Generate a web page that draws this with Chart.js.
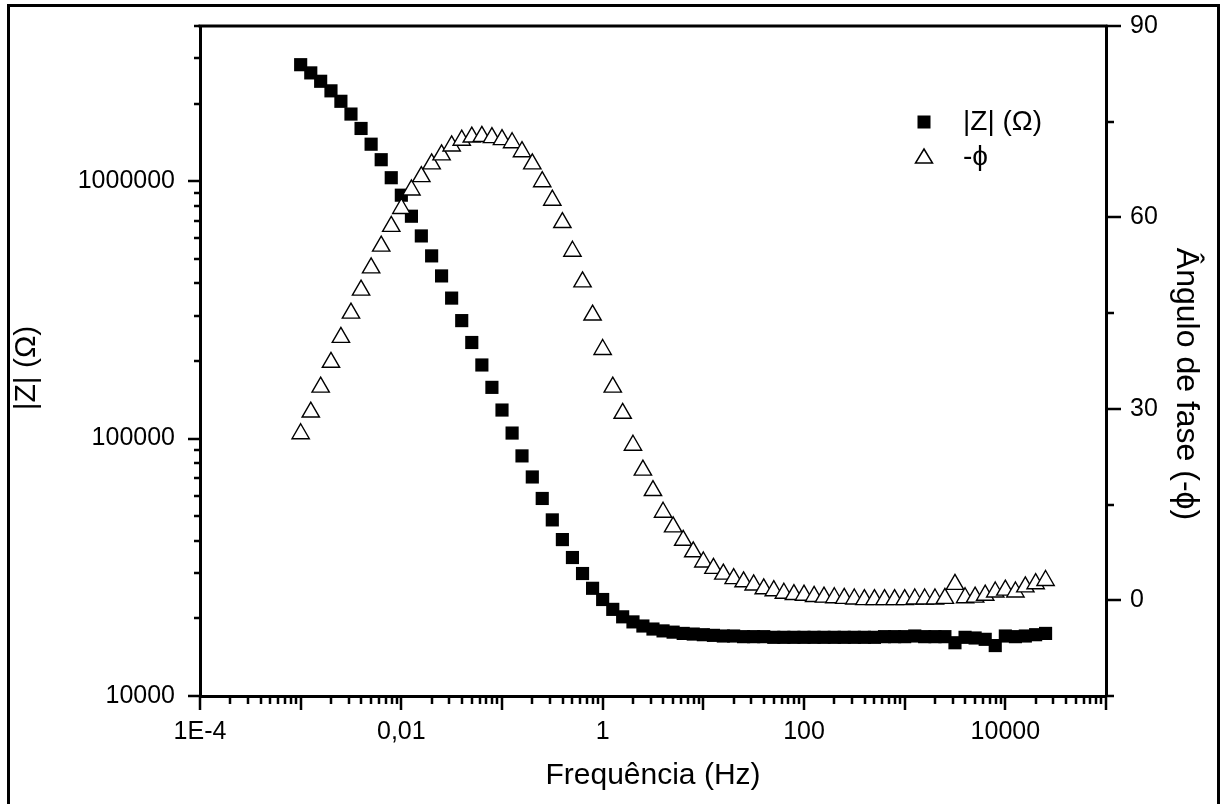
<!DOCTYPE html>
<html>
<head>
<meta charset="utf-8">
<script src="https://cdn.jsdelivr.net/npm/chart.js@4.4.0/dist/chart.umd.min.js"></script>
<style>
  html, body { margin: 0; padding: 0; background: #fff; }
  #wrap { position: relative; width: 1224px; height: 804px; }
</style>
</head>
<body>
<div id="wrap"><canvas id="bode" width="1224" height="804"></canvas></div>
<script>
// frequency points (Hz), 10 per decade
const freqHz = [
  0.001, 0.00126, 0.00158, 0.002, 0.00251, 0.00316, 0.00398, 0.00501, 0.00631, 0.00794,
  0.01, 0.0126, 0.0158, 0.02, 0.0251, 0.0316, 0.0398, 0.0501, 0.0631, 0.0794,
  0.1, 0.126, 0.158, 0.2, 0.251, 0.316, 0.398, 0.501, 0.631, 0.794,
  1, 1.26, 1.58, 2, 2.51, 3.16, 3.98, 5.01, 6.31, 7.94,
  10, 12.6, 15.8, 20, 25.1, 31.6, 39.8, 50.1, 63.1, 79.4,
  100, 126, 158, 200, 251, 316, 398, 501, 631, 794,
  1000, 1260, 1580, 2000, 2510, 3160, 3980, 5010, 6310, 7940,
  10000, 12600, 15800, 20000, 25100
];

// |Z| in ohm
const zModulus = [
  2830000, 2630000, 2440000, 2240000, 2040000, 1820000, 1600000, 1390000, 1210000, 1030000,
  881000, 730000, 612000, 512000, 428000, 351000, 287000, 236000, 193000, 158000,
  129000, 105000, 85600, 70900, 58500, 48300, 40500, 34500, 29900, 26200,
  23700, 21700, 20300, 19400, 18700, 18200, 17900, 17700, 17500, 17400,
  17300, 17200, 17100, 17100, 17000, 17000, 17000, 16900, 16900, 16900,
  16900, 16900, 16900, 16900, 16900, 16900, 16900, 16900, 17000, 17000,
  17000, 17100, 17000, 17000, 17000, 16100, 16900, 16800, 16600, 15700,
  17100, 17000, 17100, 17300, 17500
];

// -phase in degrees
const phaseNeg = [
  26.1, 29.5, 33.4, 37.3, 41.2, 45.0, 48.6, 52.1, 55.5, 58.6,
  61.4, 64.3, 66.4, 68.4, 69.8, 71.2, 72.1, 72.6, 72.7, 72.5,
  72.2, 71.7, 70.3, 68.4, 65.6, 62.7, 59.2, 54.7, 49.9, 44.7,
  39.3, 33.4, 29.3, 24.3, 20.4, 17.2, 13.8, 11.5, 9.4, 7.6,
  6.0, 5.0, 4.1, 3.4, 2.9, 2.4, 1.8, 1.5, 1.1, 0.9,
  0.8, 0.6, 0.5, 0.4, 0.3, 0.2, 0.1, 0.1, 0.1, 0.1,
  0.1, 0.2, 0.2, 0.2, 0.3, 2.5, 0.4, 0.5, 0.8, 1.3,
  1.6, 1.3, 2.1, 2.6, 3.1
];

const xTickValues = [1e-4, 1e-2, 1, 1e2, 1e4];
const xTickLabels = ['1E-4', '0,01', '1', '100', '10000'];
const zTickValues = [1e4, 1e5, 1e6];
const zTickLabels = ['10000', '100000', '1000000'];
const phaseTickValues = [0, 30, 60, 90];
const phaseTickLabels = ['0', '30', '60', '90'];

const xTitle = 'Frequência (Hz)';
const zTitle = '|Z| (\u03A9)';
const phaseTitle = 'Ângulo de fase (-\u03D5)';

const FONT = "'Liberation Sans', Arial, sans-serif";

function logMarks(min, max) {
  const out = [];
  for (let e = Math.floor(Math.log10(min)); e <= Math.ceil(Math.log10(max)); e++) {
    for (let m = 1; m <= 9; m++) {
      const v = m * Math.pow(10, e);
      if (v >= min * 0.999 && v <= max * 1.001) out.push({ v, major: m === 1 });
    }
  }
  return out;
}

// no extra layout padding from the scales, the boxes are sized by hand
function fixBox(s, w, h) {
  if (w) s.width = w;
  if (h) s.height = h;
  s.paddingTop = s.paddingBottom = s.paddingLeft = s.paddingRight = 0;
}

// outer frame, top line of plot box, tick marks, axis titles, legend
const decor = {
  id: 'decor',
  beforeDraw(chart) {
    const ctx = chart.ctx;
    ctx.save();
    ctx.fillStyle = '#fff';
    ctx.fillRect(0, 0, chart.width, chart.height);
    ctx.restore();
  },
  afterDraw(chart) {
    const { ctx, chartArea: a, scales } = chart;
    ctx.save();
    ctx.strokeStyle = '#000';
    ctx.lineWidth = 3;
    ctx.strokeRect(8.5, 5.5, 1210, 820);

    ctx.beginPath();
    ctx.moveTo(a.left - 1.5, a.top);
    ctx.lineTo(a.right + 1.5, a.top);
    ctx.stroke();

    ctx.lineWidth = 2.5;
    ctx.beginPath();
    logMarks(scales.x.min, scales.x.max).forEach(t => {
      const px = Math.round(scales.x.getPixelForValue(t.v));
      ctx.moveTo(px, a.bottom);
      ctx.lineTo(px, a.bottom + (t.major ? 14 : 8));
    });
    logMarks(scales.y.min, scales.y.max).forEach(t => {
      const py = Math.round(scales.y.getPixelForValue(t.v));
      ctx.moveTo(a.left, py);
      ctx.lineTo(a.left - (t.major ? 12 : 6), py);
    });
    for (let v = scales.y2.min; v <= scales.y2.max; v += 15) {
      const py = Math.round(scales.y2.getPixelForValue(v));
      ctx.moveTo(a.right, py);
      ctx.lineTo(a.right + (v % 30 === 0 ? 15 : 8), py);
    }
    ctx.stroke();

    // axis titles
    ctx.fillStyle = '#000';
    ctx.textAlign = 'center';
    ctx.textBaseline = 'middle';
    ctx.font = '30px ' + FONT;
    ctx.fillText(xTitle, (a.left + a.right) / 2, 776);
    ctx.save();
    ctx.translate(27, 368);
    ctx.rotate(-Math.PI / 2);
    ctx.fillText(zTitle, 0, 0);
    ctx.restore();
    ctx.font = '32px ' + FONT;
    ctx.save();
    ctx.translate(1186, 384);
    ctx.rotate(Math.PI / 2);
    ctx.fillText(phaseTitle, 0, 0);
    ctx.restore();

    // legend
    const ds = chart.data.datasets;
    const lx = 924, ly = [122, 157];
    ctx.fillRect(lx - 6.5, ly[0] - 6.5, 13, 13);
    ctx.beginPath();
    ctx.moveTo(lx, ly[1] - 8);
    ctx.lineTo(lx + 8.5, ly[1] + 6);
    ctx.lineTo(lx - 8.5, ly[1] + 6);
    ctx.closePath();
    ctx.fillStyle = '#fff';
    ctx.fill();
    ctx.lineWidth = 1.5;
    ctx.stroke();
    ctx.fillStyle = '#000';
    ctx.font = '28px ' + FONT;
    ctx.textAlign = 'left';
    ctx.fillText(ds[0].label, 963, ly[0]);
    ctx.fillText(ds[1].label, 963, ly[1]);
    ctx.restore();
  }
};

new Chart(document.getElementById('bode'), {
  type: 'scatter',
  data: {
    datasets: [
      {
        label: zTitle,
        data: freqHz.map((f, i) => ({ x: f, y: zModulus[i] })),
        yAxisID: 'y',
        order: 1,
        pointStyle: 'rect',
        pointRadius: 9.3,
        pointBackgroundColor: '#000',
        pointBorderColor: '#000',
        pointBorderWidth: 0,
        showLine: false
      },
      {
        label: '-\u03D5',
        data: freqHz.map((f, i) => ({ x: f, y: phaseNeg[i] })),
        yAxisID: 'y2',
        order: 0,
        pointStyle: 'triangle',
        pointRadius: 10,
        pointBackgroundColor: '#fff',
        pointBorderColor: '#000',
        pointBorderWidth: 1.4,
        showLine: false
      }
    ]
  },
  options: {
    responsive: false,
    animation: false,
    devicePixelRatio: 1,
    layout: { padding: { top: 26, left: 0, right: 0, bottom: 0 } },
    plugins: {
      legend: { display: false },
      tooltip: { enabled: false }
    },
    scales: {
      x: {
        type: 'logarithmic',
        position: 'bottom',
        min: 1e-4,
        max: 1e5,
        afterBuildTicks: s => { s.ticks = xTickValues.map(v => ({ value: v })); },
        afterFit: s => fixBox(s, 0, 108),
        grid: { display: false, drawTicks: false },
        border: { display: true, color: '#000', width: 3 },
        ticks: {
          autoSkip: false,
          maxRotation: 0,
          padding: 21,
          color: '#000',
          font: { family: FONT, size: 25 },
          callback: (v, i) => xTickLabels[i]
        }
      },
      y: {
        type: 'logarithmic',
        position: 'left',
        min: 1e4,
        max: 4e6,
        afterBuildTicks: s => { s.ticks = zTickValues.map(v => ({ value: v })); },
        afterFit: s => fixBox(s, 200, 0),
        grid: { display: false, drawTicks: false },
        border: { display: true, color: '#000', width: 3 },
        ticks: {
          autoSkip: false,
          padding: 25,
          color: '#000',
          font: { family: FONT, size: 25 },
          callback: (v, i) => zTickLabels[i]
        }
      },
      y2: {
        type: 'linear',
        position: 'right',
        min: -15,
        max: 90,
        afterBuildTicks: s => { s.ticks = phaseTickValues.map(v => ({ value: v })); },
        afterFit: s => fixBox(s, 118, 0),
        grid: { display: false, drawTicks: false },
        border: { display: true, color: '#000', width: 3 },
        ticks: {
          autoSkip: false,
          padding: 24,
          color: '#000',
          font: { family: FONT, size: 25 },
          callback: (v, i) => phaseTickLabels[i]
        }
      }
    }
  },
  plugins: [decor]
});
</script>
</body>
</html>
